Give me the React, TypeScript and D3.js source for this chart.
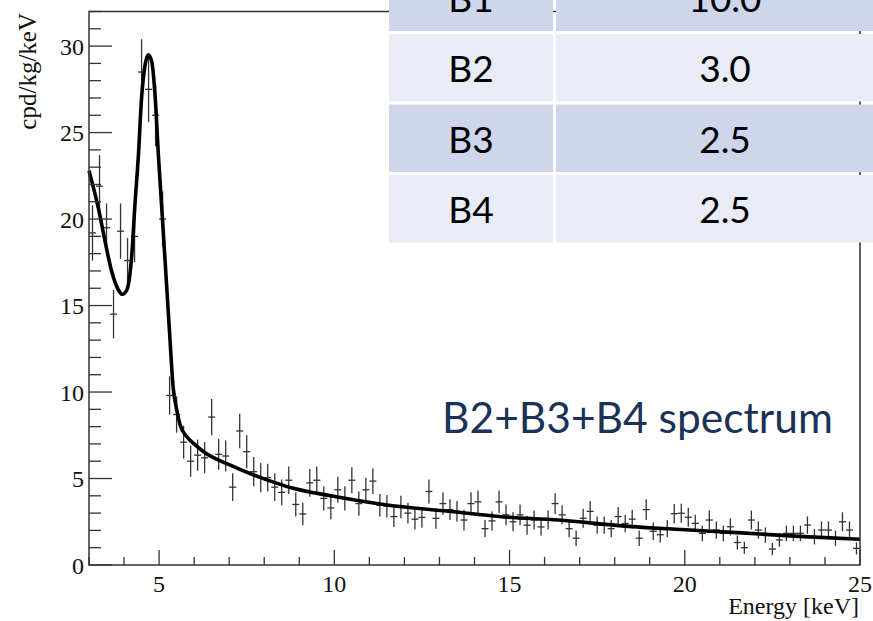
import React from 'react';
import * as d3 from 'd3';

// Bin centres (keV), measured rate (cpd/kg/keV) and its error
const energy = [
  3.1, 3.3, 3.5, 3.7, 3.9, 4.1, 4.3, 4.5, 4.7, 4.9, 5.1,
  5.3, 5.5, 5.7, 5.9, 6.1, 6.3, 6.5, 6.7, 6.9, 7.1, 7.3, 7.5, 7.7, 7.9,
  8.1, 8.3, 8.5, 8.7, 8.9, 9.1, 9.3, 9.5, 9.7, 9.9,
  10.1, 10.3, 10.5, 10.7, 10.9, 11.1, 11.3, 11.5, 11.7, 11.9,
  12.1, 12.3, 12.5, 12.7, 12.9, 13.1, 13.3, 13.5, 13.7, 13.9,
  14.1, 14.3, 14.5, 14.7, 14.9, 15.1, 15.3, 15.5, 15.7, 15.9,
  16.1, 16.3, 16.5, 16.7, 16.9, 17.1, 17.3, 17.5, 17.7, 17.9,
  18.1, 18.3, 18.5, 18.7, 18.9, 19.1, 19.3, 19.5, 19.7, 19.9,
  20.1, 20.3, 20.5, 20.7, 20.9, 21.1, 21.3, 21.5, 21.7, 21.9,
  22.1, 22.3, 22.5, 22.7, 22.9, 23.1, 23.3, 23.5, 23.7, 23.9,
  24.1, 24.3, 24.5, 24.7, 24.9,
];
const rate = [
  19.2, 21.9, 19.5, 14.5, 19.3, 17.6, 19.0, 28.5, 27.5, 26.0, 20.0,
  9.8, 8.7, 7.1, 6.0, 6.35, 6.2, 8.55, 6.4, 6.3, 4.5, 7.75, 6.55, 5.4, 5.05,
  5.05, 4.5, 4.2, 4.9, 3.5, 2.95, 4.75, 4.9, 3.85, 3.3,
  4.35, 3.85, 4.9, 3.55, 4.35, 4.85, 3.45, 3.4, 2.8, 3.35,
  3.0, 2.65, 2.75, 4.25, 2.7, 3.55, 3.2, 3.1, 2.6, 3.55,
  3.65, 2.1, 2.55, 3.65, 2.9, 2.5, 2.9, 2.3, 2.6, 2.2,
  2.6, 3.55, 2.9, 2.1, 1.55, 2.7, 3.1, 2.3, 2.3, 2.1,
  2.8, 2.4, 2.65, 1.55, 3.2, 1.95, 1.75, 2.1, 2.97, 2.99,
  2.76, 2.41, 1.83, 2.6, 2.02, 1.83, 2.21, 1.3, 1.0, 2.6,
  2.02, 1.73, 0.92, 1.45, 1.83, 1.83, 1.83, 2.31, 1.64, 2.02,
  2.02, 1.54, 2.5, 2.02, 0.96,
];
const rateErr = [
  1.6, 1.8, 1.4, 1.4, 1.6, 1.3, 1.5, 1.9, 1.9, 1.8, 1.6,
  1.1, 1.05, 0.95, 0.9, 0.9, 0.9, 1.05, 0.9, 0.9, 0.8, 1.0, 0.95, 0.85, 0.85,
  0.8, 0.8, 0.75, 0.8, 0.7, 0.65, 0.8, 0.8, 0.7, 0.65,
  0.75, 0.7, 0.75, 0.7, 0.7, 0.75, 0.65, 0.65, 0.6, 0.65,
  0.6, 0.6, 0.6, 0.7, 0.6, 0.65, 0.6, 0.6, 0.6, 0.65,
  0.65, 0.5, 0.55, 0.65, 0.6, 0.55, 0.6, 0.55, 0.55, 0.5,
  0.55, 0.6, 0.55, 0.5, 0.45, 0.55, 0.6, 0.5, 0.5, 0.5,
  0.55, 0.5, 0.55, 0.45, 0.6, 0.5, 0.45, 0.5, 0.55, 0.55,
  0.55, 0.5, 0.45, 0.55, 0.5, 0.45, 0.5, 0.4, 0.35, 0.55,
  0.5, 0.45, 0.35, 0.4, 0.45, 0.45, 0.45, 0.5, 0.45, 0.5,
  0.5, 0.45, 0.55, 0.5, 0.35,
];

// Fit curve
const fitE = [
  3.0, 3.27, 3.46, 3.65, 3.84, 3.95, 4.08, 4.22, 4.31, 4.41, 4.5, 4.6, 4.69,
  4.79, 4.89, 4.98, 5.09, 5.22, 5.3, 5.4, 5.5, 5.6, 5.8, 6.0, 6.3, 7.0, 7.7,
  8.0, 8.8, 9.9, 11.5, 13.4, 14.7, 16.4, 18.3, 19.9, 21.5, 23.4, 25.0,
];
const fitRate = [
  22.8, 20.6, 18.7, 16.95, 15.9, 15.65, 15.9, 17.9, 20.8, 23.7, 27.0, 28.9, 29.5,
  29.1, 27.0, 23.7, 20.2, 16.0, 13.4, 10.3, 9.0, 8.1, 7.4, 7.0, 6.5, 5.8, 5.2,
  4.98, 4.45, 4.0, 3.47, 3.08, 2.8, 2.6, 2.25, 2.05, 1.87, 1.64, 1.49,
];

const xMajor = [5, 10, 15, 20, 25];
const xMinor = [3, 4, 6, 7, 8, 9, 11, 12, 13, 14, 16, 17, 18, 19, 21, 22, 23, 24];
const yMajor = [0, 5, 10, 15, 20, 25, 30];
const yMinor = [1, 2, 3, 4, 6, 7, 8, 9, 11, 12, 13, 14, 16, 17, 18, 19, 21, 22, 23, 24, 26, 27, 28, 29, 31, 32];

const tableLabels = ['B1', 'B2', 'B3', 'B4'];
const tableValues = ['10.0', '3.0', '2.5', '2.5'];

export default function App() {
  const W = 873;
  const H = 621;
  const left = 89, right = 860, top = 11.5, bottom = 565;
  const x = d3.scaleLinear().domain([3, 25]).range([left, right]);
  const y = d3.scaleLinear().domain([0, 32]).range([bottom, top]);

  const fitLine = d3
    .line<number>()
    .x((_, i) => x(fitE[i]))
    .y((d) => y(d))
    .curve(d3.curveMonotoneX)(fitRate) as string;

  const axisColor = '#333';
  const serif = '"Liberation Serif", "DejaVu Serif", serif';
  const sans = 'Lato, "Open Sans", sans-serif';

  const rowTop = (i: number) => 34 + (i - 1) * 70.5;
  const rowH = 67.5;

  return (
    <svg
      width={W}
      height={H}
      viewBox={`0 0 ${W} ${H}`}
      style={{ position: 'absolute', left: 0, top: 0, background: '#fff', overflow: 'hidden' }}
    >
      <rect x={0} y={0} width={W} height={H} fill="#fff" />

      {/* data points with error bars */}
      <g stroke="#333" strokeWidth={1.3} fill="none">
        {energy.map((e, i) => {
          const cx = x(e);
          const cy = y(rate[i]);
          return (
            <g key={i}>
              <line x1={cx} x2={cx} y1={y(rate[i] - rateErr[i])} y2={y(rate[i] + rateErr[i])} />
              <line x1={x(e - 0.1)} x2={x(e + 0.1)} y1={cy} y2={cy} />
            </g>
          );
        })}
      </g>

      {/* fit */}
      <path d={fitLine} fill="none" stroke="#000" strokeWidth={3.6} strokeLinejoin="round" />

      {/* frame */}
      <rect x={left} y={top} width={right - left} height={bottom - top} fill="none" stroke={axisColor} strokeWidth={1.5} />

      {/* ticks */}
      <g stroke={axisColor} strokeWidth={1.3}>
        {xMajor.map((t) => (
          <line key={'xM' + t} x1={x(t)} x2={x(t)} y1={bottom} y2={bottom - 15} />
        ))}
        {xMinor.map((t) => (
          <line key={'xm' + t} x1={x(t)} x2={x(t)} y1={bottom} y2={bottom - 8} />
        ))}
        {yMajor.map((t) => (
          <line key={'yM' + t} x1={left} x2={left + 23} y1={y(t)} y2={y(t)} />
        ))}
        {yMinor.map((t) => (
          <line key={'ym' + t} x1={left} x2={left + 12} y1={y(t)} y2={y(t)} />
        ))}
      </g>

      <g fontFamily={serif} fontSize={24} fill="#111">
        {xMajor.map((t) => (
          <text key={'xl' + t} x={x(t)} y={592} textAnchor="middle">
            {t}
          </text>
        ))}
        {yMajor.map((t) => (
          <text key={'yl' + t} x={84} y={y(t) + 8.5} textAnchor="end">
            {t}
          </text>
        ))}
      </g>

      <text x={859} y={614} fontFamily={serif} fontSize={24} textAnchor="end" fill="#111">
        Energy [keV]
      </text>
      <text
        transform="translate(36,13) rotate(-90)"
        fontFamily={serif}
        fontSize={25}
        textAnchor="end"
        fill="#111"
      >
        cpd/kg/keV
      </text>

      {/* table overlay */}
      <g>
        {tableLabels.map((lab, i) => {
          const ty = rowTop(i);
          const fill = i % 2 === 0 ? '#CFD5EA' : '#E9EBF5';
          return (
            <g key={lab}>
              <rect x={389} y={ty} width={164} height={rowH} fill={fill} />
              <rect x={556} y={ty} width={330} height={rowH} fill={fill} />
              <text x={471} y={ty + 48} fontFamily={sans} fontSize={37} textAnchor="middle" fill="#000">
                {lab}
              </text>
              <text x={725} y={ty + 48} fontFamily={sans} fontSize={37} textAnchor="middle" fill="#000">
                {tableValues[i]}
              </text>
            </g>
          );
        })}
      </g>

      <text x={442} y={433} fontFamily={sans} fontSize={42.5} fill="#1B3257">
        B2+B3+B4 spectrum
      </text>
    </svg>
  );
}
